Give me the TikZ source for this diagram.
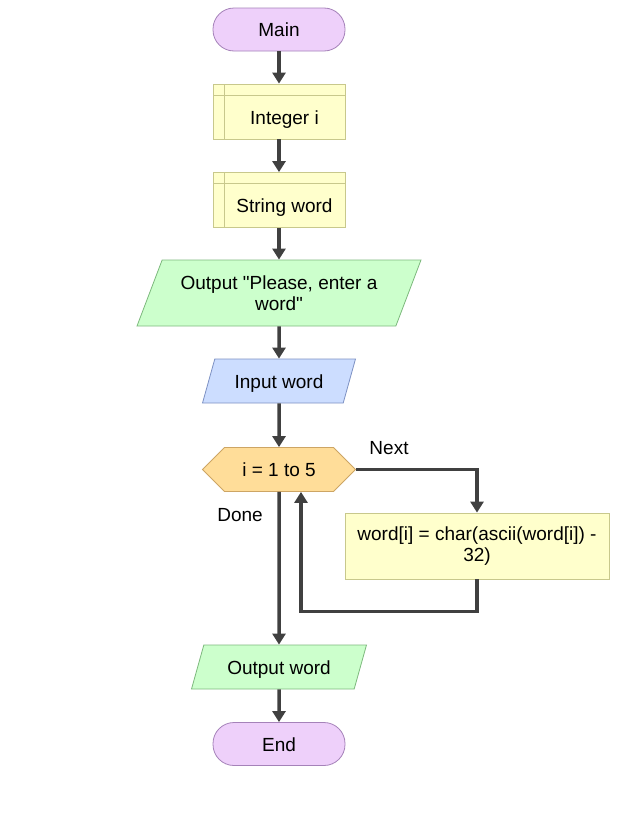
\documentclass[tikz,border=0pt]{standalone}
\usepackage{fontspec}
\setmainfont{Liberation Sans}[Ligatures=TeXOff]
\usetikzlibrary{shapes.geometric,shapes.symbols,arrows.meta,positioning,calc}

\definecolor{termfill}{RGB}{238,208,250}
\definecolor{termline}{RGB}{165,130,185}
\definecolor{declfill}{RGB}{255,255,204}
\definecolor{declline}{RGB}{200,200,140}
\definecolor{outfill}{RGB}{204,255,204}
\definecolor{outline}{RGB}{125,185,125}
\definecolor{infill}{RGB}{204,221,255}
\definecolor{inline}{RGB}{125,145,195}
\definecolor{loopfill}{RGB}{255,221,153}
\definecolor{loopline}{RGB}{205,165,100}
\definecolor{arrowgray}{RGB}{64,64,64}

\begin{document}
\begin{tikzpicture}[
    x=1pt, y=-1pt,
    font=\fontsize{19}{21}\selectfont,
    oneline/.style={text height=14pt, text depth=0pt},
    terminal/.style={rectangle, draw=termline, fill=termfill, line width=0.8pt, rounded corners=21pt, minimum width=132pt, minimum height=43pt, inner sep=0pt, oneline},
    decl/.style={rectangle, draw=declline, fill=declfill, line width=0.8pt, minimum width=132pt, minimum height=55pt, inner sep=0pt, text height=25pt, text depth=0pt,
        execute at begin node=\hspace*{11pt},
        path picture={\draw[declline, line width=0.8pt]
            ([yshift=-11pt]path picture bounding box.north west) -- ([yshift=-11pt]path picture bounding box.north east)
            ([xshift=11pt]path picture bounding box.north west) -- ([xshift=11pt]path picture bounding box.south west);}},
    io/.style={trapezium, trapezium left angle=58.8, trapezium right angle=121.2, trapezium stretches=true, line width=0.8pt, minimum height=44pt, inner sep=0pt, align=center},
    outbox/.style={io, draw=outline, fill=outfill},
    inbox/.style={io, draw=inline, fill=infill},
    loopbox/.style={signal, signal to=west and east, signal pointer angle=90, draw=loopline, fill=loopfill, line width=0.8pt, minimum width=153pt, minimum height=44pt, inner sep=0pt, oneline},
    process/.style={rectangle, draw=declline, fill=declfill, line width=0.8pt, minimum width=264pt, minimum height=66pt, inner sep=0pt, align=center},
    flow/.style={draw=arrowgray, line width=3.5pt, -{Triangle[width=13pt,length=11pt]}},
    lbl/.style={inner sep=0pt, oneline}
]
\useasboundingbox (0,0) rectangle (630,822);

% Start
\node[terminal] (main) at (279,29.5) {Main};

% Declarations
\node[decl] (ivar) at (279,111.5) {Integer i};
\node[decl] (sword) at (279,200) {String word};

% Prompt and input
\node[outbox, minimum width=285pt, minimum height=66pt] (prompt) at (279,293) {Output "Please, enter a\\word"};
\node[inbox, minimum width=153pt, oneline] (inword) at (279,381) {Input word};

% For loop
\node[loopbox] (loop) at (279,469.5) {i = 1 to 5};
\node[process] (body) at (477,546) {word[i] = char(ascii(word[i]) -\\32)};
\node[lbl] (nextlbl) at (389,447) {Next};
\node[lbl] (donelbl) at (240,514) {Done};

% Output and end
\node[outbox, minimum width=175pt, oneline] (outword) at (279,667) {Output word};
\node[terminal] (stop) at (279,744) {End};

% Connectors
\draw[flow] (main) -- (ivar);
\draw[flow] (ivar) -- (sword);
\draw[flow] (sword) -- (prompt);
\draw[flow] (prompt) -- (inword);
\draw[flow] (inword) -- (loop);
\draw[flow] (loop.east) -| (body.north);
\draw[flow] (body.south) -- ++(0,32) -| ([xshift=22pt]loop.south);
\draw[flow] (loop.south) -- (outword);
\draw[flow] (outword) -- (stop);

\end{tikzpicture}
\end{document}
